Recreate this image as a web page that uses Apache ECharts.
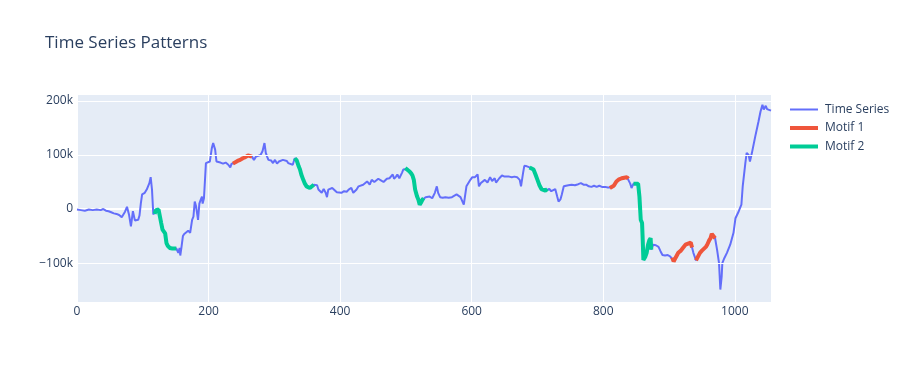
<!DOCTYPE html>
<html>
<head>
<meta charset="utf-8">
<script src="https://cdn.jsdelivr.net/npm/echarts@6/dist/echarts.min.js"></script>
<style>html,body{margin:0;padding:0;background:#fff;}#c{width:902px;height:378px;}</style>
</head>
<body>
<div id="c"></div>
<script>
// Time series sample positions (x) and values (in thousands)
var tsX = [0,3,6,9,12,15,18,21,24,27,30,33,36,40,44,48,52,56,60,64,68,70,73,76,79,82,85,88,91,93,95,97,99,103,106,108,110,112,114,116,118,120,122,124,126,128,130,132,134,136,138,141,145,148,151,154,156,157,159,161,163,166,169,172,175,177,179,181,184,186,188,190,191,193,196,199,202,205,207,210,212,215,218,220,222,226,230,233,235,237,240,244,248,252,256,260,263,266,269,272,275,279,282,285,287,289,291,295,298,301,304,307,310,313,316,319,321,324,328,331,334,337,339,341,344,346,349,352,354,357,360,363,365,367,370,372,375,378,380,382,385,388,391,395,398,402,406,410,413,417,420,422,425,428,431,435,438,441,445,448,452,455,458,462,466,468,471,475,480,482,485,487,490,494,496,499,502,505,508,510,512,514,517,519,521,523,525,527,530,533,536,540,544,547,549,552,556,560,565,570,573,577,580,583,586,588,590,592,595,598,601,605,609,611,614,617,620,624,628,631,635,637,642,646,650,653,657,661,665,669,673,675,678,680,684,688,691,694,697,700,703,706,709,712,715,718,721,724,727,730,732,735,737,740,743,747,752,757,762,766,770,774,778,782,786,790,794,798,803,807,810,813,816,820,824,828,832,836,838,841,843,846,849,853,855,857,859,860,861,864,866,868,870,872,873,876,880,884,887,890,894,898,902,905,907,910,914,918,921,925,929,933,935,937,939,941,944,947,950,953,956,958,961,963,965,968,970,973,976,978,980,981,984,988,993,998,1001,1006,1010,1012,1016,1018,1021,1023,1026,1031,1036,1039,1042,1044,1045,1047,1049,1051,1055];
var tsY = [-1,1,-2,0,-3,0,-1,1,-2,0,-1,1,-2,0,-3,-4,-6,-8,-9,-11,-15,-12,-5,4,-10,-32,-4,-21,-18,-20,-12,10,27,30,36,42,48,59,36,-10,-9,-2,-5,-1,-3,-26,-38,-36,-45,-63,-68,-72,-73,-74,-73,-81,-72,-86,-69,-50,-46,-44,-40,-44,-20,-14,14,5,-20,10,17,23,10,20,85,88,88,113,122,110,88,91,86,88,84,86,82,77,84,84,85,89,91,94,96,99,102,97,91,97,99,100,107,122,104,97,91,90,85,91,84,88,86,91,88,89,85,88,82,94,90,79,73,64,54,48,42,40,39,42,45,42,44,36,38,30,37,30,22,36,38,39,36,31,34,30,33,32,36,39,30,27,36,42,45,45,42,51,45,54,50,51,56,53,50,48,56,57,64,56,60,64,57,67,73,76,74,70,66,62,54,36,23,17,8,12,17,20,22,20,23,20,30,42,30,22,21,22,21,22,22,27,24,22,25,8,5,42,48,54,59,59,64,42,48,51,54,49,59,52,57,49,57,62,60,62,60,59,60,59,54,42,66,80,79,77,78,73,64,54,44,37,35,34,37,37,33,36,37,23,14,18,27,42,45,44,45,44,46,48,45,45,42,41,43,41,43,41,41,40,39,40,43,51,55,57,58,59,56,47,39,47,46,47,23,-20,-26,-57,-94,-88,-81,-66,-58,-54,-75,-66,-67,-70,-78,-85,-86,-85,-88,-90,-97,-90,-81,-77,-72,-66,-64,-62,-71,-81,-88,-95,-88,-81,-77,-74,-70,-66,-58,-54,-46,-47,-54,-75,-100,-149,-125,-100,-91,-81,-66,-44,-17,-4,8,42,85,104,100,88,104,134,162,180,193,184,181,191,185,183,182];
// Motif windows (start x, end x)
var motif1Ranges = [[237,266],[810,839],[905,935],[941,970]];
var motif2Ranges = [[117,151],[331,360],[499,527],[688,717],[846,873]];
var seriesNames = ['Time Series','Motif 1','Motif 2'];
var xTicks = [0,200,400,600,800,1000];
var yTicks = [-100000,0,100000,200000];

function inRanges(x, ranges){
  for (var i=0;i<ranges.length;i++){ if (x>=ranges[i][0] && x<=ranges[i][1]) return true; }
  return false;
}
var tsData = tsX.map(function(x,i){ return [x, tsY[i]*1000]; });
function motifData(ranges){
  return tsX.map(function(x,i){ return inRanges(x,ranges) ? [x, tsY[i]*1000] : [x,'-']; });
}

var labelColor = '#2a3f5f';
var font = '"Open Sans", verdana, arial, sans-serif';
var chart = echarts.init(document.getElementById('c'), null, {renderer:'canvas'});
chart.setOption({
  animation: false,
  backgroundColor: '#ffffff',
  title: {
    text: 'Time Series Patterns', left: 45, top: 35, padding: 0,
    textStyle: {fontFamily: font, fontSize: 17, fontWeight: 'normal', color: labelColor}
  },
  legend: {
    orient: 'vertical', left: 790, top: 103.5, padding: 0,
    itemWidth: 28, itemHeight: 14, itemGap: 6.5, symbolKeepAspect: true,
    textStyle: {fontFamily: font, fontSize: 12, color: labelColor, padding: [0,0,0,2]},
    data: [
      {name: seriesNames[0], icon: 'path://M0,0H28V2H0Z'},
      {name: seriesNames[1], icon: 'path://M0,0H28V4H0Z'},
      {name: seriesNames[2], icon: 'path://M0,0H28V4H0Z'}
    ]
  },
  grid: {
    left: 77, right: 131, top: 95, bottom: 76,
    show: true, backgroundColor: '#E5ECF6', borderWidth: 0
  },
  xAxis: {
    type: 'value', min: 0, max: 1055, interval: 200,
    axisLine: {show: true, onZero: true, lineStyle: {color: '#ffffff', width: 2}},
    axisTick: {show: false},
    splitLine: {show: true, lineStyle: {color: '#ffffff', width: 1}},
    axisLabel: {
      fontFamily: font, fontSize: 12, color: labelColor, margin: 4,
      showMaxLabel: false,
      formatter: function(v){ return xTicks.indexOf(v) >= 0 ? String(v) : ''; }
    }
  },
  yAxis: {
    type: 'value', min: -172000, max: 211000,
    axisLine: {show: true, onZero: true, lineStyle: {color: '#ffffff', width: 2}},
    axisTick: {show: false, customValues: yTicks},
    splitLine: {show: false},
    axisLabel: {
      customValues: yTicks,
      fontFamily: font, fontSize: 12, color: labelColor, margin: 4,
      formatter: function(v){
        if (v === 0) return '0';
        return (v < 0 ? '\u2212' : '') + Math.abs(v)/1000 + 'k';
      }
    }
  },
  series: [
    {name: 'grid', type: 'line', data: [], z: 1, silent: true,
     markLine: {silent: true, symbol: ['none','none'], label: {show: false}, animation: false,
       lineStyle: {color: '#ffffff', width: 1, type: 'solid'},
       emphasis: {disabled: true},
       data: yTicks.filter(function(v){ return v !== 0; }).map(function(v){ return {yAxis: v}; })}},
    {name: seriesNames[0], type: 'line', data: tsData, symbol: 'none', z: 2,
     lineStyle: {color: '#636efa', width: 2}, itemStyle: {color: '#636efa'}},
    {name: seriesNames[1], type: 'line', data: motifData(motif1Ranges), symbol: 'none', z: 3, connectNulls: false,
     lineStyle: {color: '#EF553B', width: 4}, itemStyle: {color: '#EF553B'}},
    {name: seriesNames[2], type: 'line', data: motifData(motif2Ranges), symbol: 'none', z: 3, connectNulls: false,
     lineStyle: {color: '#00cc96', width: 4}, itemStyle: {color: '#00cc96'}}
  ]
});
</script>
</body>
</html>
